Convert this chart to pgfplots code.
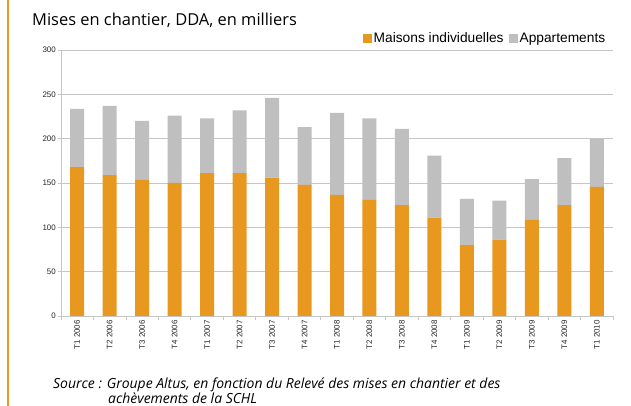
\documentclass[border=0pt]{standalone}
\usepackage{fontspec}
\setmainfont{Liberation Sans}
\newfontfamily\osans{Open Sans}
\usepackage{pgfplots}
\usepackage{pgfplotstable}
\pgfplotsset{compat=1.18}

\definecolor{maisons}{HTML}{E9981F}
\definecolor{apparts}{HTML}{BFBFBF}
\definecolor{grille}{HTML}{C6C6C6}

% mises en chantier par trimestre, en milliers
\pgfplotstableread{
idx maisons apparts
0  168   65.5
1  159   78
2  154   66
3  150   76
4  161   62
5  161   71
6  156   90
7  148   65
8  136.5 92.5
9  131   92
10 125   86
11 111   70
12 80    52
13 86    44
14 109   45.5
15 125   53
16 145.5 54
}\mises

\begin{document}
\begin{tikzpicture}
\useasboundingbox (0,0) rectangle (631bp,406bp);
\fill[maisons] (6.5bp,0) rectangle (8.5bp,406bp);

\node[anchor=base west, inner sep=0, font=\osans\fontsize{16.5}{20}\selectfont]
  at (32bp,380bp) {Mises en chantier, DDA, en milliers};

\begin{axis}[
  at={(61bp,90bp)}, anchor=south west,
  scale only axis,
  width=552bp, height=266bp,
  xmin=-0.5, xmax=16.5,
  ymin=0, ymax=300,
  ybar stacked, bar width=14bp,
  axis x line*=bottom, axis y line*=left,
  axis line style={grille, line width=0.8bp, -},
  ytick={0,50,...,300},
  ymajorgrids,
  grid style={grille, line width=0.8bp},
  xtick={0,...,16},
  xticklabels={T1 2006,T2 2006,T3 2006,T4 2006,T1 2007,T2 2007,T3 2007,T4 2007,
    T1 2008,T2 2008,T3 2008,T4 2008,T1 2009,T2 2009,T3 2009,T4 2009,T1 2010},
  minor xtick={-0.5,0.5,...,16.5},
  tick align=outside,
  major x tick style={draw=none},
  tick style={grille, line width=0.8bp},
  major tick length=3bp,
  minor tick length=4bp,
  x tick label style={rotate=90, anchor=east, inner sep=1bp,
    font=\fontsize{8}{8}\selectfont, text=black!85},
  y tick label style={font=\fontsize{8}{8}\selectfont, text=black!85, inner sep=2bp},
  /pgf/number format/assume math mode=true,
  legend columns=2,
  legend style={at={(rel axis cs:0.989,1.045)}, anchor=east, draw=none, fill=none,
    font=\fontsize{13.8}{14}\selectfont, inner sep=0pt,
    nodes={inner sep=1.5bp},
    /tikz/every even column/.append style={column sep=4bp}},
  legend image code/.code={\fill[#1] (0bp,-4.5bp) rectangle (9bp,4.5bp);},
]
\addplot[fill=maisons, draw=none] table[x=idx, y=maisons] {\mises};
\addplot[fill=apparts, draw=none] table[x=idx, y=apparts] {\mises};
\legend{Maisons individuelles, Appartements}
\end{axis}

\node[anchor=base west, inner sep=0, font=\osans\itshape\fontsize{14}{16}\selectfont]
  at (53bp,18bp) {Source : Groupe Altus, en fonction du Relevé des mises en chantier et des};
\node[anchor=base west, inner sep=0, font=\osans\itshape\fontsize{14}{16}\selectfont]
  at (108bp,3bp) {achèvements de la SCHL};
\end{tikzpicture}
\end{document}
